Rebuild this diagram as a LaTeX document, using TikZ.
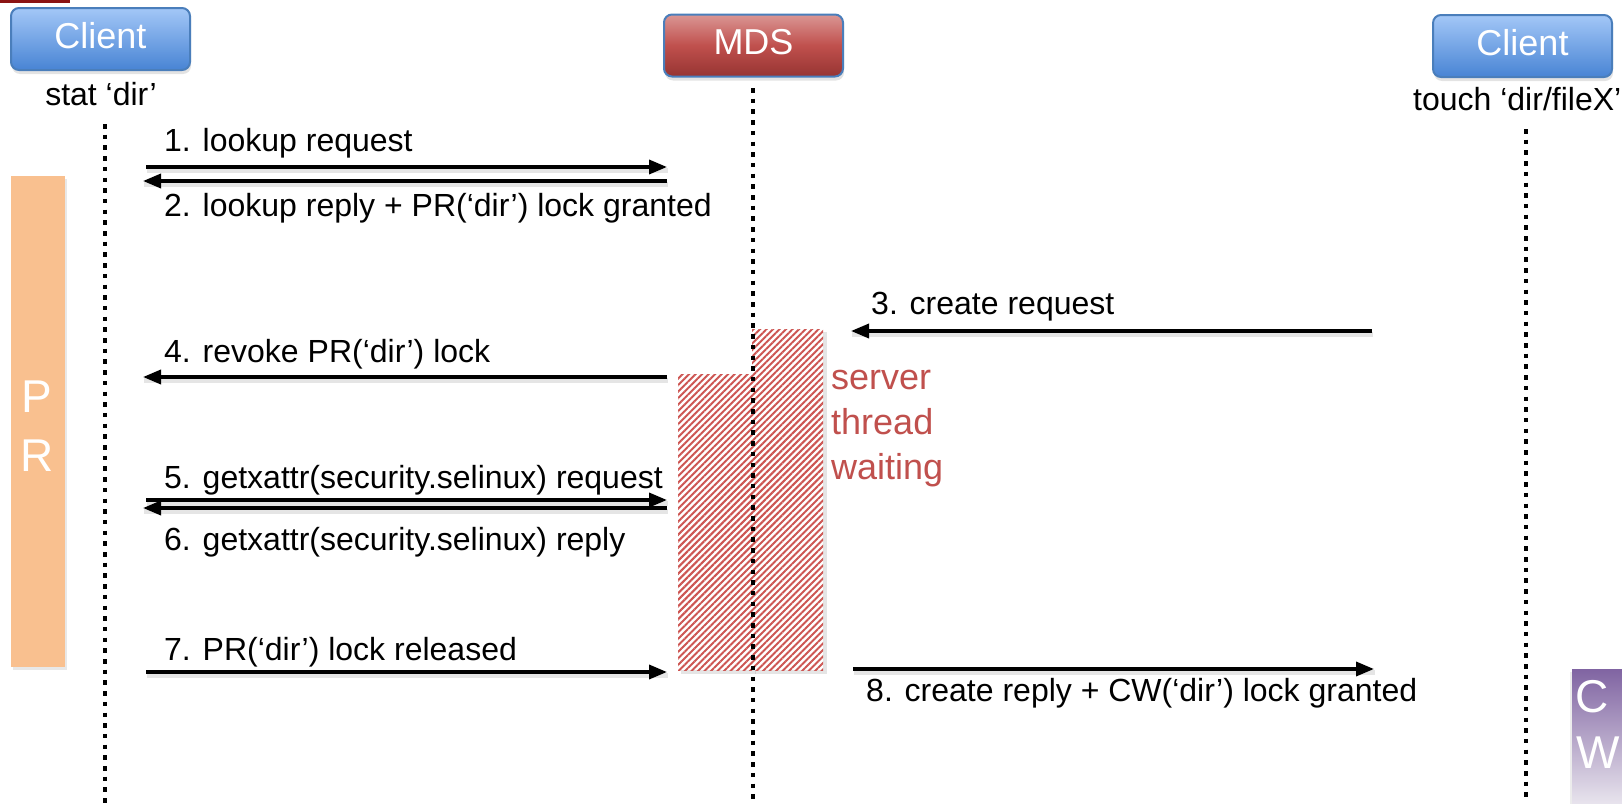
\documentclass[tikz,border=0pt]{standalone}
\usepackage{fontspec}
\setmainfont{Liberation Sans}
\usetikzlibrary{arrows.meta,shadows,patterns.meta}

\definecolor{clienttop}{RGB}{163,199,247}
\definecolor{clientbot}{RGB}{72,132,212}
\definecolor{boxedge}{RGB}{74,126,187}
\definecolor{mdstop}{RGB}{218,150,148}
\definecolor{mdsmid}{RGB}{192,80,77}
\definecolor{mdsbot}{RGB}{150,52,50}
\definecolor{hatchred}{RGB}{205,85,82}
\definecolor{waitred}{RGB}{192,80,77}
\definecolor{prfill}{RGB}{249,192,143}
\definecolor{cwtop}{RGB}{128,100,162}
\definecolor{cwbot}{RGB}{236,233,240}
\definecolor{topbar}{RGB}{139,20,20}

\begin{document}
\begin{tikzpicture}[x=1pt,y=-1pt,
  actor/.style={draw=boxedge, line width=2pt, rounded corners=8pt,
    minimum width=179pt, minimum height=62pt, inner sep=0pt, text=white,
    font=\fontsize{36}{40}\selectfont, text height=26pt, text depth=8pt,
    drop shadow={shadow xshift=1pt, shadow yshift=-4pt, opacity=0.22}},
  clientbox/.style={actor, top color=clienttop, bottom color=clientbot},
  mdsbox/.style={actor, top color=mdstop, bottom color=mdsbot, middle color=mdsmid},
  lifeline/.style={line width=4.5pt, dash pattern=on 4.5pt off 6.2pt},
  msg/.style={line width=3.5pt, -{Triangle[length=18pt,width=14pt]},
    preaction={draw=black, opacity=0.10, line width=5pt, arrows={-},
      transform canvas={shift={(1pt,-3pt)}}}},
  lab/.style={font=\fontsize{32}{38}\selectfont, inner sep=0pt, anchor=base west},
  caption/.style={font=\fontsize{32}{38}\selectfont, inner sep=0pt},
  waittext/.style={font=\fontsize{36}{44}\selectfont, text=waitred, inner sep=0pt, anchor=base west},
  bigletter/.style={font=\fontsize{46}{50}\selectfont, text=white, inner sep=0pt, anchor=base west},
  hatch/.style={pattern={Lines[angle=45,distance=4.6pt,line width=2pt]}, pattern color=hatchred}
]
\useasboundingbox (0,0) rectangle (1622,803);

% thin bar in the top left corner
\fill[topbar] (0,0) rectangle (70,3);

% lock state bars
\node[fill=prfill, minimum width=54pt, minimum height=491pt, inner sep=0pt,
      drop shadow={shadow xshift=2pt, shadow yshift=-3pt, opacity=0.18}] (prbar) at (38,421.5) {};
\node[bigletter] (prP) at (21,412) {P};
\node[bigletter] (prR) at (20,471) {R};

\node[top color=cwtop, bottom color=cwbot, minimum width=70pt, minimum height=140pt, inner sep=0pt,
      drop shadow={shadow xshift=-2pt, shadow yshift=-3pt, opacity=0.15}] (cwbar) at (1607,739) {};
\node[bigletter] (cwC) at (1575,712) {C};
\node[bigletter] (cwW) at (1576,768) {W};

% busy server thread
\fill[black, opacity=0.10] (681,377) rectangle (756,674);
\fill[black, opacity=0.10] (755,332) rectangle (827,674);
\fill[white] (678,374) rectangle (752,670);
\fill[white] (752,329) rectangle (823,670);
\fill[hatch] (678,374) rectangle (752,670);
\fill[hatch] (752,329) rectangle (823,670);
\node[waittext] (wait1) at (831,389) {server};
\node[waittext] (wait2) at (831,434) {thread};
\node[waittext] (wait3) at (831,479) {waiting};

% participants
\node[clientbox] (cl1) at (100.5,39) {Client};
\node[mdsbox] (mds) at (753.5,45.5) {MDS};
\node[clientbox] (cl2) at (1522.5,46) {Client};
\node[caption, anchor=base] (stat) at (101,105) {stat ‘dir’};
\node[caption, anchor=base west] (touch) at (1413,110) {touch ‘dir/fileX’};

% lifelines
\coordinate (ll1top) at (105,124);
\coordinate (ll1bot) at (105,803);
\coordinate (ll2top) at (753,88);
\coordinate (ll2bot) at (753,803);
\coordinate (ll3top) at (1526,129);
\coordinate (ll3bot) at (1526,803);
\draw[lifeline] (ll1top) -- (ll1bot);
\draw[lifeline] (ll2top) -- (ll2bot);
\draw[lifeline] (ll3top) -- (ll3bot);

% message end points
\coordinate (a1s) at (146,167);  \coordinate (a1e) at (667,167);
\coordinate (a2s) at (667,181);  \coordinate (a2e) at (143,181);
\coordinate (a3s) at (1372,331); \coordinate (a3e) at (851,331);
\coordinate (a4s) at (667,377);  \coordinate (a4e) at (143,377);
\coordinate (a5s) at (146,500);  \coordinate (a5e) at (667,500);
\coordinate (a6s) at (667,508);  \coordinate (a6e) at (143,508);
\coordinate (a7s) at (146,672);  \coordinate (a7e) at (667,672);
\coordinate (a8s) at (853,669);  \coordinate (a8e) at (1374,669);

\draw[msg] (a1s) -- (a1e);
\draw[msg] (a2s) -- (a2e);
\draw[msg] (a3s) -- (a3e);
\draw[msg] (a4s) -- (a4e);
\draw[msg] (a5s) -- (a5e);
\draw[msg] (a6s) -- (a6e);
\draw[msg] (a7s) -- (a7e);
\draw[msg] (a8s) -- (a8e);

% message labels
\node[lab] (m1) at (164,151) {1. lookup request};
\node[lab] (m2) at (164,216) {2. lookup reply + PR(‘dir’) lock granted};
\node[lab] (m3) at (871,314) {3. create request};
\node[lab] (m4) at (164,362) {4. revoke PR(‘dir’) lock};
\node[lab] (m5) at (164,488) {5. getxattr(security.selinux) request};
\node[lab] (m6) at (164,550) {6. getxattr(security.selinux) reply};
\node[lab] (m7) at (164,660) {7. PR(‘dir’) lock released};
\node[lab] (m8) at (866,701) {8. create reply + CW(‘dir’) lock granted};
\end{tikzpicture}
\end{document}
